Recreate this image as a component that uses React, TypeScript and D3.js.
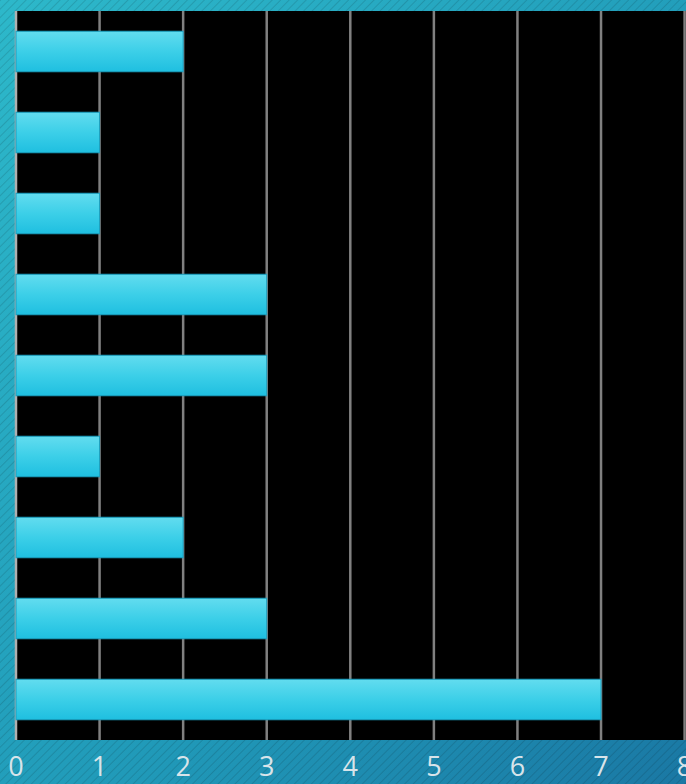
import React from "react";
import * as d3 from "d3";

const categories = ["A", "B", "C", "D", "E", "F", "G", "H", "I"];
const values = [2, 1, 1, 3, 3, 1, 2, 3, 7];
const ticks = [0, 1, 2, 3, 4, 5, 6, 7, 8];

export default function App() {
  const W = 686, H = 784;
  const left = 16, top = 11, right = 684.6, bottom = 740;
  const x = d3.scaleLinear().domain([0, 8]).range([left, right]);
  const y = d3.scaleBand<string>().domain(categories).range([top, bottom]).paddingInner(0.5).paddingOuter(0.25);
  return (
    <svg width={W} height={H} style={{ position: "absolute", left: 0, top: 0 }}>
      <defs>
        <linearGradient id="bg" x1="0" y1="0" x2="1" y2="1">
          <stop offset="0" stopColor="#2db8ca" />
          <stop offset="0.6" stopColor="#2099b8" />
          <stop offset="1" stopColor="#1a78a4" />
        </linearGradient>
        <pattern id="hatch" width="6" height="6" patternUnits="userSpaceOnUse" patternTransform="rotate(45)">
          <line x1="0" y1="0" x2="0" y2="6" stroke="#000" strokeOpacity="0.12" strokeWidth="2" />
        </pattern>
        <linearGradient id="bar" x1="0" y1="0" x2="0" y2="1">
          <stop offset="0" stopColor="#62dcef" />
          <stop offset="0.5" stopColor="#3ccfe8" />
          <stop offset="1" stopColor="#1fbfe0" />
        </linearGradient>
      </defs>
      <rect width={W} height={H} fill="url(#bg)" />
      <rect width={W} height={H} fill="url(#hatch)" />
      <rect x={left} y={top} width={W - left} height={bottom - top} fill="#000" />
      {ticks.map((t) => (
        <line key={t} x1={x(t)} x2={x(t)} y1={top} y2={bottom} stroke={t === 0 ? "#b0b0b0" : "#808080"} strokeWidth={2.5} />
      ))}
      {categories.map((c, i) => (
        <rect key={c} x={x(0)} y={y(c)} width={x(values[i]) - x(0)} height={y.bandwidth()} fill="url(#bar)" stroke="#1a9fbf" strokeWidth={1} />
      ))}
      {ticks.map((t) => (
        <text key={t} x={x(t)} y={776} textAnchor="middle" fontFamily="'Open Sans', sans-serif" fontSize={27} fill="#d8e4ea">
          {t}
        </text>
      ))}
    </svg>
  );
}
